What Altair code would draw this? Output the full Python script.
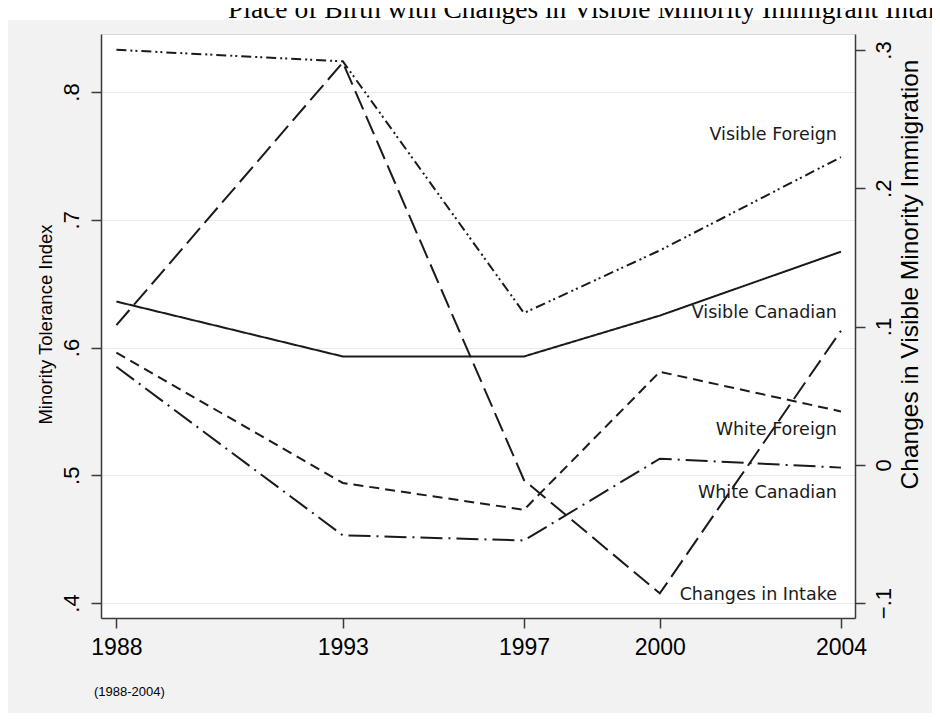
import altair as alt
import pandas as pd

years = [1988, 1993, 1997, 2000, 2004]
visible_foreign = [0.833, 0.824, 0.627, 0.676, 0.749]
visible_canadian = [0.636, 0.593, 0.593, 0.625, 0.675]
white_foreign = [0.596, 0.494, 0.473, 0.581, 0.550]
white_canadian = [0.585, 0.453, 0.449, 0.513, 0.506]
changes_in_intake = [0.101, 0.291, -0.011, -0.093, 0.097]

series_names = ["Visible Foreign", "Visible Canadian", "White Foreign", "White Canadian"]
series_dash = [[10, 4, 2, 3, 2, 4], [1, 0], [10, 6], [22, 6, 2, 6]]

label_names = ["Visible Foreign", "Visible Canadian", "White Foreign", "White Canadian", "Changes in Intake"]
label_levels = [0.7665, 0.6270, 0.5355, 0.4862, 0.4063]

left_ticks = [0.4, 0.5, 0.6, 0.7, 0.8]
right_ticks = [-0.1, 0.0, 0.1, 0.2, 0.3]

title_text = "Place of Birth with Changes in Visible Minority Immigrant Intake"
note_text = "(1988-2004)"

W, H = 754, 584
INK = "#1a1a1a"
AX = "#3a3a3a"

rows = []
for name, vals in zip(series_names, [visible_foreign, visible_canadian, white_foreign, white_canadian]):
    for y, v in zip(years, vals):
        rows.append({"year": y, "series": name, "value": v})
df_left = pd.DataFrame(rows)
df_right = pd.DataFrame({"year": years, "change": changes_in_intake})
df_labels = pd.DataFrame({"year": [2004] * len(label_names), "label": label_names, "level": label_levels})

x_scale = alt.Scale(domain=[1987.66, 2004.31], nice=False, zero=False)
left_scale = alt.Scale(domain=[0.3883, 0.8454], nice=False, zero=False)
right_scale = alt.Scale(domain=[-0.1108, 0.3116], nice=False, zero=False)

lbl_expr = "datum.value == 0 ? '0' : replace(format(datum.value, '.1f'), '0.', '.')"

x_axis = alt.Axis(values=years, format="d", title=None, labelFontSize=23, labelFont="Liberation Sans",
                  labelColor="black", labelPadding=8, tickSize=10, tickColor=AX, tickWidth=1.5,
                  domainColor=AX, domainWidth=1.5, grid=False, labelFlush=False, labelOverlap=False)

left_axis = alt.Axis(orient="left", values=left_ticks, labelExpr=lbl_expr, labelAngle=270,
                     labelAlign="center", labelBaseline="alphabetic", labelPadding=13,
                     labelFontSize=22, labelFont="Liberation Sans", labelColor="black",
                     tickSize=10, tickColor=AX, tickWidth=1.5, domainColor=AX, domainWidth=1.5,
                     grid=True, gridColor="#e9e9e9", gridWidth=1.2, labelFlush=False,
                     title="Minority Tolerance Index", titleFont="Liberation Sans", titleFontSize=18.5,
                     titleFontWeight="normal", titleColor="black", titleAngle=270,
                     titleAlign="center", titleBaseline="middle", titleX=-56, titleY=290)

right_axis = alt.Axis(orient="right", values=right_ticks, labelExpr=lbl_expr, labelAngle=270,
                      labelAlign="center", labelBaseline="top", labelPadding=8,
                      labelFontSize=22, labelFont="Liberation Sans", labelColor="black",
                      tickSize=10, tickColor=AX, tickWidth=1.5, domainColor=AX, domainWidth=1.5,
                      grid=False, labelFlush=False,
                      title="Changes in Visible Minority Immigration", titleFont="Liberation Sans",
                      titleFontSize=24.5, titleFontWeight="normal", titleColor="black", titleAngle=270,
                      titleAlign="center", titleBaseline="middle", titleX=55, titleY=240)

lines_left = alt.Chart(df_left).mark_line(strokeWidth=2, color=INK).encode(
    x=alt.X("year:Q", scale=x_scale, axis=x_axis),
    y=alt.Y("value:Q", scale=left_scale, axis=left_axis),
    strokeDash=alt.StrokeDash("series:N", scale=alt.Scale(domain=series_names, range=series_dash), legend=None),
    detail="series:N",
)

labels = alt.Chart(df_labels).mark_text(align="right", baseline="middle", dx=-4, font="DejaVu Sans",
                                        fontSize=17.5, color=INK).encode(
    x=alt.X("year:Q", scale=x_scale, axis=x_axis),
    y=alt.Y("level:Q", scale=left_scale, axis=left_axis),
    text="label:N",
)

left_layer = alt.layer(lines_left, labels)

line_right = alt.Chart(df_right).mark_line(strokeWidth=2, color=INK, strokeDash=[20, 7]).encode(
    x=alt.X("year:Q", scale=x_scale, axis=x_axis),
    y=alt.Y("change:Q", scale=right_scale, axis=right_axis),
)

deco_df = pd.DataFrame({"t": [title_text], "n": [note_text]})
white_strip = alt.Chart(deco_df).mark_rect(color="white").encode(
    x=alt.value(-93), x2=alt.value(W + 77), y=alt.value(-26), y2=alt.value(-14)
)
title = alt.Chart(deco_df).mark_text(align="left", baseline="alphabetic", font="Liberation Serif",
                                     fontSize=27.5, color="black").encode(
    text="t:N", x=alt.value(127), y=alt.value(-16)
)
note = alt.Chart(deco_df).mark_text(align="left", baseline="middle", font="Liberation Sans",
                                    fontSize=13, color="black").encode(
    text="n:N", x=alt.value(-7), y=alt.value(658)
)

chart = alt.layer(left_layer, line_right, white_strip, title, note).resolve_scale(
    y="independent"
).properties(
    width=W, height=H, background="#f2f2f2",
    padding={"left": 93, "top": 26, "right": 77, "bottom": 95},
    autosize=alt.AutoSizeParams(type="none"),
).configure_view(fill="white", stroke="#d8d8d8")

chart.save("out.html", embed_options={"renderer": "svg", "actions": False})
